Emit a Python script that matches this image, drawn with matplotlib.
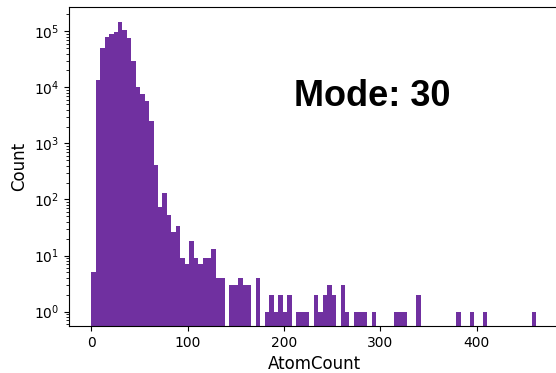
import numpy as np
import matplotlib
matplotlib.use("Agg")
import matplotlib.pyplot as plt

# Histogram data (AtomCount), 100 equal bins from 0 to 462
bin_start = 0.0
bin_stop = 462.0
n_bins = 100
counts = [
    5, 13500, 50000, 79000, 90000, 96000, 148000, 104000, 76500, 29800,   # 0-9
    10300, 7600, 5760, 2500, 410, 74, 130, 53, 26, 34,                   # 10-19
    9, 7, 18, 9, 7, 9, 9, 13, 4, 4,                                      # 20-29
    0, 3, 3, 4, 3, 3, 0, 4, 0, 1,                                        # 30-39
    2, 1, 2, 1, 2, 0, 1, 1, 1, 0,                                        # 40-49
    2, 1, 2, 3, 2, 0, 3, 1, 0, 1,                                        # 50-59
    1, 1, 0, 1, 0, 0, 0, 0, 1, 1,                                        # 60-69
    1, 0, 0, 2, 0, 0, 0, 0, 0, 0,                                        # 70-79
    0, 0, 1, 0, 0, 1, 0, 0, 1, 0,                                        # 80-89
    0, 0, 0, 0, 0, 0, 0, 0, 0, 1,                                        # 90-99
]
mode_label = "Mode: 30"
x_label = "AtomCount"
y_label = "Count"

edges = np.linspace(bin_start, bin_stop, n_bins + 1)
centers = 0.5 * (edges[:-1] + edges[1:])

fig = plt.figure(figsize=(5.56, 3.73), dpi=100)
ax = fig.add_axes([69 / 556, 47 / 373, (559 - 69) / 556, (326 - 7) / 373])

ax.hist(centers, bins=edges, weights=counts, log=True,
        color="#7030A0", edgecolor="white", linewidth=0.0)

ax.set_yscale("log")
ax.set_ylim(0.556, 2.7e5)
ax.set_xlim(-23.1, 485.5)
ax.set_xticks([0, 100, 200, 300, 400])
ax.set_xlabel(x_label, fontsize=12)
ax.set_ylabel(y_label, fontsize=12)
ax.tick_params(labelsize=10)

ax.text(0.618, 0.72, mode_label, transform=ax.transAxes, ha="center", va="center",
        fontsize=26, fontweight="bold", family=["Liberation Sans", "DejaVu Sans"])

fig.savefig("out.png", dpi=100)
